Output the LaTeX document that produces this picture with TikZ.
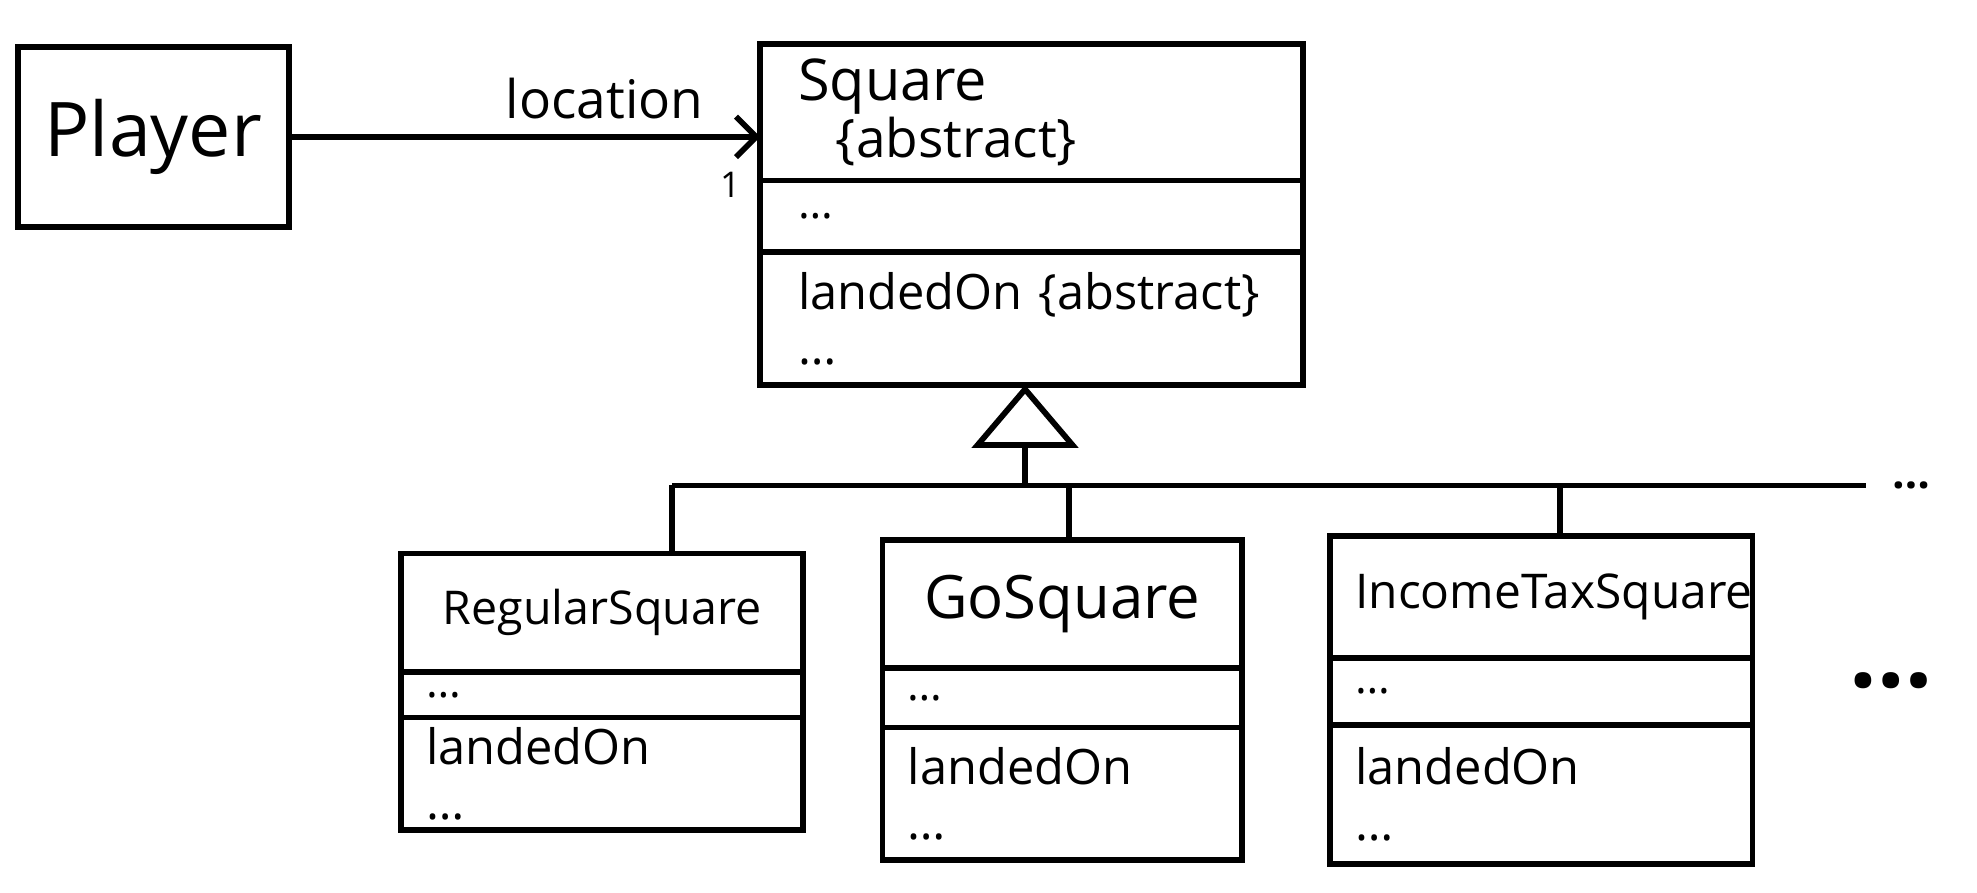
\documentclass[tikz,border=0pt]{standalone}
\usepackage{fontspec}
\setmainfont{Open Sans}
\usetikzlibrary{arrows.meta}

\begin{document}
\begin{tikzpicture}[x=0.01cm,y=-0.01cm,line width=1.3pt,
  part/.style={draw,anchor=north west,inner ysep=0pt,outer sep=0pt,align=left},
  inherit/.style={-{Triangle[open,length=0.5cm,width=0.84cm]}},
  assoc/.style={-{Straight Barb[length=0.16cm,width=0.32cm]}}]
  \useasboundingbox (0,0) rectangle (1568,708);

  % player and the abstract square
  \node [draw,anchor=north west,outer sep=0pt,minimum width=2.15cm,minimum height=1.43cm,
         font=\fontsize{17}{19}\selectfont] (player) at (14,37) {Player};
  \node [part,inner xsep=0.3cm,text width=3.7cm,minimum height=1.08cm,
         font=\fontsize{13}{14}\selectfont] (sq-name) at (603,35)
        {Square\\[-1pt]\hspace*{0.3cm}{\fontsize{12}{13}\selectfont\{abstract\}}};
  \node [part,inner xsep=0.3cm,text width=3.7cm,minimum height=0.57cm]
        (sq-attr) at (sq-name.south west) {\ldots};
  \node [part,inner xsep=0.3cm,text width=3.7cm,minimum height=1.05cm,
         font=\fontsize{11}{12.5}\selectfont] (sq-ops) at (sq-attr.south west)
        {landedOn \{abstract\}\\\ldots};

  \draw [assoc] (player.east) -- (player.east -| sq-name.west)
     node [pos=0.67,above=0pt,font=\fontsize{12}{13}\selectfont] {location}
     node [pos=1,anchor=north east,inner sep=1pt,xshift=-0.1cm,yshift=-0.22cm,font=\footnotesize] {1};

  % the concrete squares
  \foreach \nm/\x/\y/\w/\ha/\hb/\hc/\dx/\fs [count=\i, evaluate={\tw=\w*0.01-0.4;\a=\ha*0.01;\b=\hb*0.01;\c=\hc*0.01;}] in
     {RegularSquare/318/439/319/94/36/89/533/10.5,
      GoSquare/700/428/285/102/47/105/848/13.5,
      IncomeTaxSquare/1055/425/335/97/53/110/1237/10.8}{
    \node [part,inner xsep=0.2cm,text width=\tw cm,minimum height=\a cm,align=center,
           font=\fontsize{\fs}{\fs}\selectfont] (sub-\i-name) at (\x,\y) {\nm};
    \node [part,inner xsep=0.2cm,text width=\tw cm,minimum height=\b cm]
          (sub-\i-attr) at (sub-\i-name.south west) {\ldots};
    \node [part,inner xsep=0.2cm,text width=\tw cm,minimum height=\c cm,
           font=\fontsize{11}{12.5}\selectfont] (sub-\i-ops) at (sub-\i-attr.south west)
          {landedOn\\\ldots};
    \coordinate (drop-\i) at (\dx,385);
    \draw (drop-\i) -- (drop-\i |- sub-\i-name.north);
  }

  % generalization
  \coordinate (gen) at (813,385);
  \coordinate (bus-e) at (1480,385);
  \draw [inherit] (gen) -- (gen |- sq-ops.south);
  \draw (drop-1) -- (bus-e) node [right=2pt,font=\bfseries] {\ldots};
  \node [font=\fontsize{22}{22}\bfseries] (more) at (1500,540) {\ldots};
\end{tikzpicture}
\end{document}
